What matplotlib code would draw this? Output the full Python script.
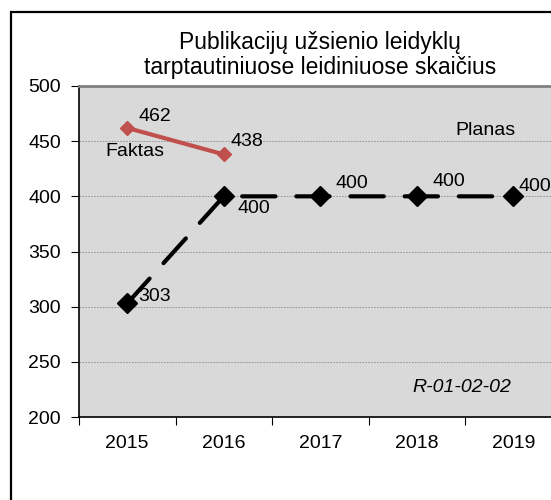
import matplotlib
matplotlib.use("Agg")
import matplotlib.pyplot as plt
from matplotlib.patches import Rectangle

plt.rcParams['font.family'] = ['Liberation Sans', 'DejaVu Sans']

years = ["2015", "2016", "2017", "2018", "2019"]
planas = [303, 400, 400, 400, 400]
faktas = [462, 438]
title = "Publikacijų užsienio leidyklų\ntarptautiniuose leidiniuose skaičius"
yticks = [200, 250, 300, 350, 400, 450, 500]

W, H = 551, 500
fig = plt.figure(figsize=(W / 100, H / 100), dpi=100)
fig.patch.set_facecolor('white')

# figure frame (cropped chart area border)
fig.patches.append(Rectangle((11 / W, -0.2), 2.0, 1 - 12 / H + 0.2, transform=fig.transFigure,
                             fill=False, edgecolor='black', linewidth=1.6, clip_on=False))

left, right, top, bottom = 79, 561.5, 86, 417
ax = fig.add_axes([left / W, 1 - bottom / H, (right - left) / W, (bottom - top) / H])
ax.set_facecolor('#d9d9d9')

x = list(range(len(years)))
ax.set_xlim(-0.5, len(years) - 0.5)
ax.set_ylim(200, 500)

for y in yticks[1:-1]:
    ax.axhline(y, color='#8c8c8c', linewidth=0.6, linestyle=(0, (2, 1.5)), zorder=1)

ax.plot(x, planas, color='black', linewidth=3, linestyle=(0, (8.0, 5.0)),
        dash_capstyle='round', solid_capstyle='round',
        marker='D', markersize=10, markerfacecolor='black', markeredgecolor='black', zorder=3)
ax.plot(x[:len(faktas)], faktas, color='#c0504d', linewidth=3, solid_capstyle='round',
        marker='D', markersize=7, markerfacecolor='#c0504d', markeredgecolor='#c0504d', zorder=4)

fs = 14
# data labels
plan_off = [(8, 5), (10, -9), (11, 9), (11, 11), (4, 7)]
for xi, v, off in zip(x, planas, plan_off):
    ax.annotate(str(v), (xi, v), xytext=off, textcoords='offset points',
                ha='left', va='center', fontsize=fs, zorder=5)
fak_off = [(8, 8), (5, 9)]
for xi, v, off in zip(x, faktas, fak_off):
    ax.annotate(str(v), (xi, v), xytext=off, textcoords='offset points',
                ha='left', va='center', fontsize=fs, zorder=5)

ax.text(0.08, 441, "Faktas", fontsize=fs, ha='center', va='center')
ax.text(3.71, 460, "Planas", fontsize=fs, ha='center', va='center')
ax.text(3.47, 227, "R-01-02-02", fontsize=fs, ha='center', va='center', style='italic')

ax.set_yticks(yticks)
ax.set_yticklabels([str(v) for v in yticks], fontsize=fs)
ax.set_xticks(x)
ax.set_xticklabels(years, fontsize=fs)
ax.set_xticks([i - 0.5 for i in range(len(years) + 1)], minor=True)
ax.tick_params(axis='x', which='major', length=0, pad=13)
ax.tick_params(axis='x', which='minor', length=6, width=0.8, direction='out', color='black')
ax.tick_params(axis='y', length=6, width=0.8, direction='out', pad=7, color='black')

ax.spines['left'].set_color('black')
ax.spines['left'].set_linewidth(1.2)
ax.spines['bottom'].set_color('black')
ax.spines['bottom'].set_linewidth(1.2)
ax.spines['top'].set_color('#808080')
ax.spines['top'].set_linewidth(2)
ax.spines['right'].set_color('#808080')
ax.spines['right'].set_linewidth(2)

fig.text(320 / W, 1 - 55 / H, title, ha='center', va='center', fontsize=16.5, linespacing=1.15)

fig.savefig('out.png', dpi=100)
